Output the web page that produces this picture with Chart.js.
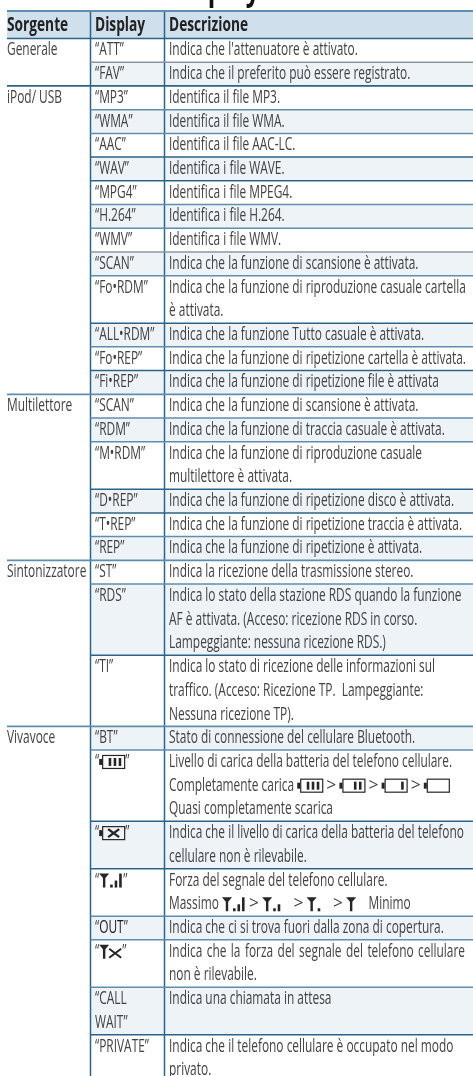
<!DOCTYPE html>
<html>
<head>
<meta charset="utf-8">
<style>
html, body { margin: 0; padding: 0; background: #fff; }
canvas { display: block; }
</style>
<script src="https://cdn.jsdelivr.net/npm/chart.js@4"></script>
</head>
<body>
<canvas id="tableChart" width="473" height="1076"></canvas>
<script>
const pageTitle = 'Display';
const headers = ['Sorgente', 'Display', 'Descrizione'];
const groupNames = ['Generale', 'iPod/ USB', 'Multilettore', 'Sintonizzatore', 'Vivavoce'];
const groupSizes = [2, 12, 6, 3, 8];
const displays = [
    '“ATT”', '“FAV”',
    '“MP3”', '“WMA”', '“AAC”', '“WAV”', '“MPG4”', '“H.264”', '“WMV”', '“SCAN”', '“Fo•RDM”', '“ALL•RDM”', '“Fo•REP”', '“Fi•REP”',
    '“SCAN”', '“RDM”', '“M•RDM”', '“D•REP”', '“T•REP”', '“REP”',
    '“ST”', '“RDS”', '“TI”',
    '“BT”', '“{b3}”', '“{bx}”', '“{s3}”', '“{out}”', '“{tx}”', '“CALL\nWAIT”', '“PRIVATE”'
];
const descriptions = [
    "Indica che l'attenuatore è attivato.",
    'Indica che il preferito può essere registrato.',
    'Identifica il file MP3.',
    'Identifica il file WMA.',
    'Identifica il file AAC-LC.',
    'Identifica i file WAVE.',
    'Identifica i file MPEG4.',
    'Identifica i file H.264.',
    'Identifica i file WMV.',
    'Indica che la funzione di scansione è attivata.',
    'Indica che la funzione di riproduzione casuale cartella\nè attivata.',
    'Indica che la funzione Tutto casuale è attivata.',
    'Indica che la funzione di ripetizione cartella è attivata.',
    'Indica che la funzione di ripetizione file è attivata',
    'Indica che la funzione di scansione è attivata.',
    'Indica che la funzione di traccia casuale è attivata.',
    'Indica che la funzione di riproduzione casuale\nmultilettore è attivata.',
    'Indica che la funzione di ripetizione disco è attivata.',
    'Indica che la funzione di ripetizione traccia è attivata.',
    'Indica che la funzione di ripetizione è attivata.',
    'Indica la ricezione della trasmissione stereo.',
    'Indica lo stato della stazione RDS quando la funzione\nAF è attivata. (Acceso: ricezione RDS in corso.\nLampeggiante: nessuna ricezione RDS.)',
    'Indica lo stato di ricezione delle informazioni sul\ntraffico. (Acceso: Ricezione TP.  Lampeggiante:\nNessuna ricezione TP).',
    'Stato di connessione del cellulare Bluetooth.',
    'Livello di carica della batteria del telefono cellulare.\nCompletamente carica {b3} {gt} {b2} {gt} {b1} {gt} {b0}\nQuasi completamente scarica',
    'Indica che il livello di carica della batteria del telefono\ncellulare non è rilevabile.',
    'Forza del segnale del telefono cellulare.\nMassimo {s3} {gt} {s2}    {gt} {s1}    {gt} {s0}    Minimo',
    'Indica che ci si trova fuori dalla zona di copertura.',
    'Indica che la forza del segnale del telefono cellulare\nnon è rilevabile.',
    'Indica una chiamata in attesa',
    'Indica che il telefono cellulare è occupato nel modo\nprivato.'
];
// rows whose first line is set justified in the reference
const justifiedRows = [28];

const NAVY = '#2b6489', STEEL = '#5f8eab', GREY = '#8b979f';
// colour of the rule above each body row
const ruleTones = [
    NAVY, GREY, NAVY, STEEL, STEEL, NAVY, NAVY, STEEL, STEEL, GREY, STEEL,
    NAVY, STEEL, NAVY, STEEL, STEEL, STEEL, NAVY, NAVY, STEEL,
    STEEL, STEEL, NAVY, STEEL, STEEL, NAVY, NAVY, STEEL, STEEL, STEEL, NAVY
];

const LINE_H = 23.72;
const HEAD_TOP = 11, HEAD_BOTTOM = 38.5;
const COL_X = [7, 90.5, 164.5];
const TEXT_X = [7, 95, 169];
const TEXT_END = 465;
const BODY_FONT = '17.5px "Open Sans"';
const BOLD_FONT = 'bold 19px "Open Sans"';
const TITLE_FONT = 'bold 34px "Open Sans"';
const BODY_COLOR = '#424242', HEAD_COLOR = '#222222', ICON_COLOR = '#262626';

let bodySqueeze = 0.6, boldSqueeze = 0.6;

const lineCounts = displays.map((d, i) =>
    Math.max(d.split('\n').length, descriptions[i].split('\n').length));
// y scale is measured in text lines, 0 is the top of the first body row
const rowTops = [];
lineCounts.reduce((top, n, i) => { rowTops[i] = top; return top + n; }, 0);
const groupStarts = [];
groupSizes.reduce((start, n, i) => { groupStarts[i] = start; return start + n; }, 0);

const yMin = -HEAD_BOTTOM / LINE_H;
const yMax = (1076 - HEAD_BOTTOM) / LINE_H;
const yHeadTop = (HEAD_TOP - HEAD_BOTTOM) / LINE_H;

function fillBand(x0, top, bottom, color) {
    return {
        data: [{ x: x0, y: top }, { x: 473, y: top }],
        showLine: true, pointRadius: 0, borderWidth: 0,
        borderColor: 'transparent', backgroundColor: color,
        fill: { target: { value: bottom } }, order: 2
    };
}

function rule(x0, y0, x1, y1, color, width) {
    return {
        data: [{ x: x0, y: y0 }, { x: x1, y: y1 }],
        showLine: true, pointRadius: 0, borderWidth: width,
        borderColor: color, fill: false, order: 1
    };
}

const datasets = [];
datasets.push(fillBand(COL_X[0], yHeadTop, 0, '#cfdfeb'));
rowTops.forEach((top, i) => {
    if (i % 2 === 1) datasets.push(fillBand(COL_X[1], top, top + lineCounts[i], '#eef3f8'));
});
datasets.push(rule(COL_X[0], yHeadTop, 473, yHeadTop, STEEL, 2));
datasets.push(rule(COL_X[0], 0, 473, 0, NAVY, 1.5));
rowTops.forEach((top, i) => {
    if (i === 0) return;
    const startsGroup = groupStarts.includes(i);
    datasets.push(rule(startsGroup ? COL_X[0] : COL_X[1], top, 473, top, ruleTones[i], startsGroup ? 1.8 : 1.5));
});
datasets.push(rule(COL_X[1], yHeadTop, COL_X[1], yMax, NAVY, 1.5));
datasets.push(rule(COL_X[2], yHeadTop, COL_X[2], yMax, NAVY, 1.5));

// --- inline glyphs, each is drawn with its left edge at x and returns its width
function battery(ctx, x, y, bars, cross) {
    ctx.save();
    ctx.strokeStyle = ICON_COLOR;
    ctx.fillStyle = ICON_COLOR;
    ctx.fillRect(x, y - 3, 3, 6);
    ctx.lineWidth = 1.2;
    ctx.strokeRect(x + 3.5, y - 6.5, 22, 13);
    for (let i = 0; i < bars; i++) {
        ctx.fillRect(x + 19.5 - i * 5, y - 4, 2.6, 8);
    }
    if (cross) {
        ctx.lineWidth = 2.4;
        ctx.beginPath();
        ctx.moveTo(x + 9, y - 4); ctx.lineTo(x + 20, y + 4);
        ctx.moveTo(x + 20, y - 4); ctx.lineTo(x + 9, y + 4);
        ctx.stroke();
    }
    ctx.restore();
    return 26;
}

function antenna(ctx, x, y) {
    ctx.fillStyle = ICON_COLOR;
    ctx.beginPath();
    ctx.moveTo(x, y - 7); ctx.lineTo(x + 10, y - 7); ctx.lineTo(x + 6.2, y - 2.5);
    ctx.lineTo(x + 6.2, y + 7); ctx.lineTo(x + 3.8, y + 7); ctx.lineTo(x + 3.8, y - 2.5);
    ctx.closePath();
    ctx.fill();
}

function signal(ctx, x, y, bars) {
    ctx.save();
    antenna(ctx, x, y);
    const heights = [3, 7, 14];
    for (let i = 0; i < bars; i++) {
        ctx.fillRect(x + 11 + i * 4.5, y + 7 - heights[i], 2.6, heights[i]);
    }
    ctx.restore();
    return bars === 3 ? 24 : bars === 2 ? 19 : bars === 1 ? 14 : 10;
}

function noSignal(ctx, x, y) {
    ctx.save();
    antenna(ctx, x, y);
    ctx.strokeStyle = ICON_COLOR;
    ctx.lineWidth = 2;
    ctx.beginPath();
    ctx.moveTo(x + 10, y - 3); ctx.lineTo(x + 22, y + 6);
    ctx.moveTo(x + 22, y - 3); ctx.lineTo(x + 10, y + 6);
    ctx.stroke();
    ctx.restore();
    return 23;
}

function outLabel(ctx, x, y) {
    ctx.save();
    ctx.fillStyle = '#1c1c1c';
    const w = drawRun(ctx, 'OUT', x, y);
    ctx.restore();
    return w;
}

const glyphs = {
    b3: (c, x, y) => battery(c, x, y, 3),
    b2: (c, x, y) => battery(c, x, y, 2),
    b1: (c, x, y) => battery(c, x, y, 1),
    b0: (c, x, y) => battery(c, x, y, 0),
    bx: (c, x, y) => battery(c, x, y, 0, true),
    s3: (c, x, y) => signal(c, x, y, 3),
    s2: (c, x, y) => signal(c, x, y, 2),
    s1: (c, x, y) => signal(c, x, y, 1),
    s0: (c, x, y) => signal(c, x, y, 0),
    tx: noSignal,
    out: outLabel,
    // the ">" between the icons is set at full width, not condensed
    gt: (c, x, y) => drawRun(c, '>', x, y, 1)
};

function drawRun(ctx, text, x, y, squeeze = bodySqueeze) {
    const w = ctx.measureText(text).width * squeeze;
    ctx.save();
    ctx.translate(x, y);
    ctx.scale(squeeze, 1);
    ctx.fillText(text, 0, 0);
    ctx.restore();
    return w;
}

function drawLine(ctx, text, x, y) {
    text.split(/(\{\w+\})/).forEach(part => {
        const token = part.match(/^\{(\w+)\}$/);
        if (token) x += glyphs[token[1]](ctx, x, y);
        else if (part) x += drawRun(ctx, part, x, y);
    });
}

function drawCell(ctx, yScale, text, x, top) {
    text.split('\n').forEach((line, k) => {
        drawLine(ctx, line, x, yScale.getPixelForValue(top + k + 0.5));
    });
}

const tablePlugin = {
    id: 'tableText',
    afterDatasetsDraw(chart) {
        const { ctx, scales: { x, y } } = chart;
        ctx.save();
        ctx.textAlign = 'left';

        ctx.font = BODY_FONT;
        bodySqueeze = 297 / ctx.measureText(descriptions[12]).width;
        ctx.font = BOLD_FONT;
        boldSqueeze = 79 / ctx.measureText(headers[2]).width;

        // only the descenders of the page title are inside the crop
        ctx.fillStyle = '#111111';
        ctx.font = TITLE_FONT;
        ctx.textBaseline = 'alphabetic';
        drawRun(ctx, pageTitle, x.getPixelForValue(170), y.getPixelForValue(yMin), boldSqueeze);
        ctx.textBaseline = 'middle';

        ctx.fillStyle = HEAD_COLOR;
        ctx.font = BOLD_FONT;
        headers.forEach((h, i) => {
            drawRun(ctx, h, x.getPixelForValue(TEXT_X[i]), (y.getPixelForValue(yHeadTop) + y.getPixelForValue(0)) / 2 + 1, boldSqueeze);
        });

        ctx.fillStyle = BODY_COLOR;
        ctx.font = BODY_FONT;
        groupNames.forEach((g, i) => {
            drawCell(ctx, y, g, x.getPixelForValue(TEXT_X[0]), rowTops[groupStarts[i]]);
        });
        displays.forEach((d, i) => {
            drawCell(ctx, y, d, x.getPixelForValue(TEXT_X[1]), rowTops[i]);
        });
        descriptions.forEach((d, i) => {
            const lines = d.split('\n');
            lines.forEach((line, k) => {
                const py = y.getPixelForValue(rowTops[i] + k + 0.5);
                const px = x.getPixelForValue(TEXT_X[2]);
                if (k === 0 && justifiedRows.includes(i)) {
                    const natural = ctx.measureText(line).width * bodySqueeze;
                    const gaps = line.split(' ').length - 1;
                    ctx.wordSpacing = ((TEXT_END - TEXT_X[2] - natural) / gaps / bodySqueeze) + 'px';
                    drawLine(ctx, line, px, py);
                    ctx.wordSpacing = '0px';
                } else {
                    drawLine(ctx, line, px, py);
                }
            });
        });
        ctx.restore();
    }
};

new Chart(document.getElementById('tableChart'), {
    type: 'scatter',
    data: { datasets },
    plugins: [tablePlugin],
    options: {
        responsive: false,
        animation: false,
        layout: { padding: 0 },
        plugins: { legend: { display: false }, title: { display: false }, tooltip: { enabled: false } },
        scales: {
            x: { type: 'linear', display: false, min: 0, max: 473 },
            y: { type: 'linear', display: false, reverse: true, min: yMin, max: yMax }
        }
    }
});
</script>
</body>
</html>
